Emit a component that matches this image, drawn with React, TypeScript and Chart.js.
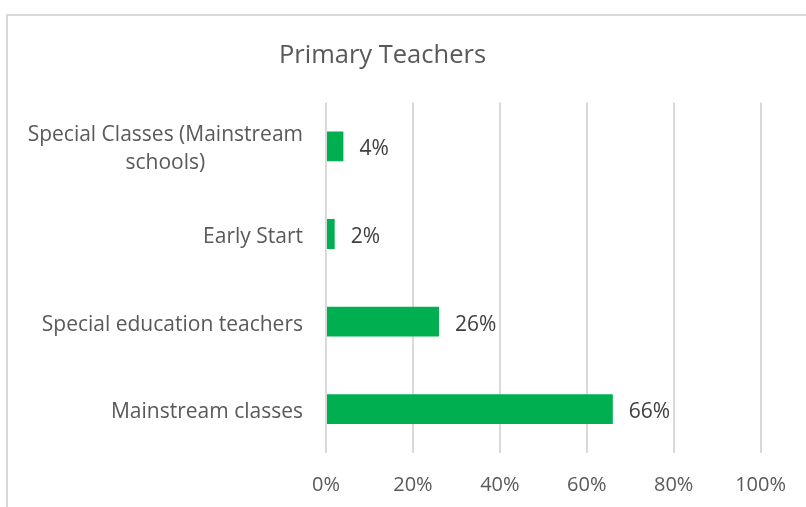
import React, { useEffect, useRef } from "react";
import { Chart, registerables } from "chart.js";

Chart.register(...registerables);

const categories: string[][] = [
  ["Special Classes (Mainstream", "schools)"],
  ["Early Start"],
  ["Special education teachers"],
  ["Mainstream classes"],
];
const values: number[] = [4, 2, 26, 66];
const xTicks: number[] = [0, 20, 40, 60, 80, 100];
const chartTitle = "Primary Teachers";

const FONT = "'Open Sans', sans-serif";

const labelPlugin = {
  id: "customLabels",
  afterDatasetsDraw(chart: any) {
    const ctx = chart.ctx;
    const meta = chart.getDatasetMeta(0);
    const yScale = chart.scales.y;
    ctx.save();
    ctx.font = `21px ${FONT}`;
    ctx.textBaseline = "middle";
    ctx.fillStyle = "#404040";
    ctx.textAlign = "left";
    meta.data.forEach((bar: any, i: number) => {
      ctx.fillText(values[i] + "%", bar.x + 16, bar.y + 3);
    });
    ctx.fillStyle = "#595959";
    ctx.textAlign = "center";
    const lineH = 28;
    const rightEdge = chart.chartArea.left - 23;
    categories.forEach((lines, i) => {
      const cy = yScale.getPixelForValue(i) + 3;
      const w = Math.max(...lines.map((l) => ctx.measureText(l).width));
      const cx = rightEdge - w / 2;
      const top = cy - ((lines.length - 1) * lineH) / 2;
      lines.forEach((l, j) => ctx.fillText(l, cx, top + j * lineH));
    });
    ctx.restore();
  },
};

export default function App() {
  const ref = useRef<HTMLCanvasElement>(null);
  useEffect(() => {
    const chart = new Chart(ref.current!, {
      type: "bar",
      data: {
        labels: categories.map((c) => c.join(" ")),
        datasets: [
          {
            data: values,
            backgroundColor: "#00B050",
            barPercentage: 0.34,
            categoryPercentage: 1,
          },
        ],
      },
      options: {
        indexAxis: "y",
        animation: false,
        responsive: false,
        layout: { padding: { left: 0, right: 41, top: 0, bottom: 0 } },
        plugins: {
          legend: { display: false },
          tooltip: { enabled: false },
          title: {
            display: true,
            text: chartTitle,
            color: "#595959",
            font: { family: FONT, size: 25.5, weight: "normal" },
            padding: { top: 40, bottom: 32 },
          },
        },
        scales: {
          x: {
            min: 0,
            max: 100,
            afterBuildTicks(scale: any) {
              scale.ticks = xTicks.map((v) => ({ value: v }));
            },
            afterFit(scale: any) {
              scale.height = 54;
            },
            grid: { color: "#d9d9d9", lineWidth: 2, drawTicks: false },
            border: { display: false },
            ticks: {
              color: "#595959",
              font: { family: FONT, size: 20 },
              padding: 20,
              callback: (v: any) => v + "%",
            },
          },
          y: {
            grid: { display: false, drawTicks: false },
            border: { display: false },
            ticks: { display: false },
            afterFit(scale: any) {
              scale.width = 326;
            },
          },
        },
      },
      plugins: [labelPlugin],
    });
    return () => chart.destroy();
  }, []);

  return (
    <div style={{ position: "fixed", left: 0, top: 0, width: 806, height: 507, overflow: "hidden", background: "#fff" }}>
      <div
        style={{
          position: "absolute",
          left: 6,
          top: 14,
          width: 830,
          height: 530,
          border: "2px solid #d9d9d9",
          boxSizing: "border-box",
        }}
      />
      <canvas ref={ref} width={806} height={507} style={{ position: "absolute", left: 0, top: 0 }} />
    </div>
  );
}
